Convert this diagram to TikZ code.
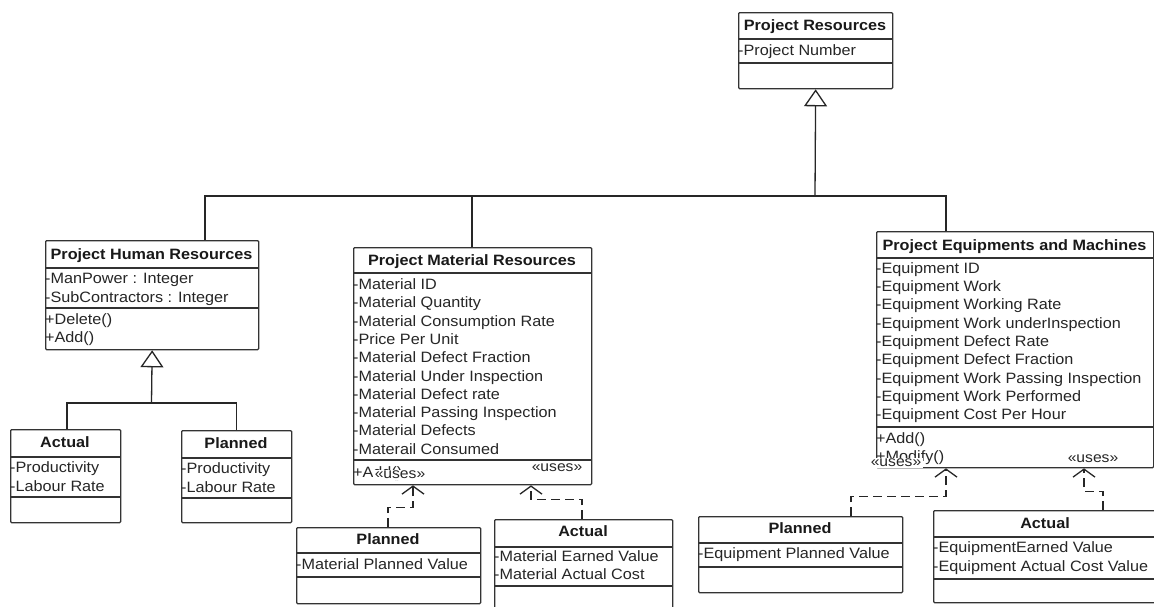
\documentclass[tikz,border=0pt]{standalone}
\usepackage{fontspec}
\setmainfont{Liberation Sans}[FakeStretch=1.08]
\usetikzlibrary{arrows.meta}
\newcommand{\cmpline}[2]{\draw[cls line] ([yshift=-#2pt]#1.north west) -- ([yshift=-#2pt]#1.north east);}
\begin{document}
\begin{tikzpicture}[x=1pt,y=-1pt,
  cls/.style={draw=black!80, line width=1.3pt, rounded corners=1pt, inner sep=0pt, anchor=north west, fill=white},
  cls line/.style={draw=black!80, line width=1.3pt},
  ttl/.style={font=\bfseries\fontsize{15}{18}\selectfont, anchor=base, inner sep=0pt, text=black!90},
  att/.style={font=\fontsize{15}{18}\selectfont, anchor=base west, inner sep=0pt, text=black!85},
  usesl/.style={font=\fontsize{14.5}{17}\selectfont, fill=white, inner sep=1.5pt, text=black!85},
  conn/.style={draw=black!85, line width=1.3pt},
  gen/.style={conn, -{Triangle[open, length=17pt, width=23pt, line width=1.3pt]}},
  dep/.style={conn, dash pattern=on 9pt off 5pt, -{Straight Barb[length=8pt, width=22pt, line width=1.3pt]}}
]
\useasboundingbox (0,0) rectangle (1154,606);
\fill[white] (0,0) rectangle (1154,606);

% ---------- Project Resources
\node[cls, minimum width=154pt, minimum height=76pt] (pr) at (738,12) {};
\cmpline{pr}{27}
\cmpline{pr}{51}
\node[ttl] (prt) at (815,30) {Project Resources};
\node[att] (pra1) at (738,55) {-Project Number};

% ---------- Project Human Resources
\node[cls, minimum width=213pt, minimum height=109pt] (hr) at (45,240) {};
\cmpline{hr}{28}
\cmpline{hr}{68}
\node[ttl] (hrt) at (151.5,259) {Project Human Resources};
\node[att] (hra1) at (45,283) {-ManPower : Integer};
\node[att] (hra2) at (45,302) {-SubContractors : Integer};
\node[att] (hrm1) at (45,324) {+Delete()};
\node[att] (hrm2) at (45,342) {+Add()};

% ---------- HR Actual
\node[cls, minimum width=110pt, minimum height=93pt] (ha) at (10,429) {};
\cmpline{ha}{28}
\cmpline{ha}{68}
\node[ttl] (hat) at (65,447) {Actual};
\node[att] (haa1) at (10,472) {-Productivity};
\node[att] (haa2) at (10,491) {-Labour Rate};

% ---------- HR Planned
\node[cls, minimum width=110pt, minimum height=92pt] (hp) at (181,430) {};
\cmpline{hp}{28}
\cmpline{hp}{68}
\node[ttl] (hpt) at (236,448) {Planned};
\node[att] (hpa1) at (181,473) {-Productivity};
\node[att] (hpa2) at (181,492) {-Labour Rate};

% ---------- Project Material Resources
\node[cls, minimum width=238pt, minimum height=237pt] (mr) at (353,247) {};
\cmpline{mr}{26}
\cmpline{mr}{213}
\node[ttl] (mrt) at (472,265) {Project Material Resources};
\foreach \t [count=\i] in {-Material ID,-Material Quantity,-Material Consumption Rate,-Price Per Unit,-Material Defect Fraction,-Material Under Inspection,-Material Defect rate,-Material Passing Inspection,-Material Defects,-Materail Consumed}
  \node[att] (mra\i) at (353,{289.5+18.3*(\i-1)}) {\t};
\node[att] (mrm1) at (353,477) {+Add()};

% ---------- Project Equipments and Machines
\node[cls, minimum width=277pt, minimum height=236pt] (eq) at (876,231) {};
\cmpline{eq}{27}
\cmpline{eq}{196}
\node[ttl] (eqt) at (1014.5,250) {Project Equipments and Machines};
\foreach \t [count=\i] in {-Equipment ID,-Equipment Work,-Equipment Working Rate,-Equipment Work underInspection,-Equipment Defect Rate,-Equipment Defect Fraction,-Equipment Work Passing Inspection,-Equipment Work Performed,-Equipment Cost Per Hour}
  \node[att] (eqa\i) at (876,{273.3+18.3*(\i-1)}) {\t};
\node[att] (eqm1) at (876,443) {+Add()};
\node[att] (eqm2) at (876,461) {+Modify()};

% ---------- Material Planned
\node[cls, minimum width=184pt, minimum height=76pt] (mp) at (296,527) {};
\cmpline{mp}{26}
\cmpline{mp}{50}
\node[ttl] (mpt) at (388,544) {Planned};
\node[att] (mpa1) at (296,569) {-Material Planned Value};

% ---------- Material Actual
\node[cls, minimum width=178pt, minimum height=100pt] (ma) at (494,519) {};
\cmpline{ma}{28}
\cmpline{ma}{67}
\node[ttl] (mat) at (583,536) {Actual};
\node[att] (maa1) at (494,561) {-Material Earned Value};
\node[att] (maa2) at (494,579) {-Material Actual Cost};

% ---------- Equipment Planned
\node[cls, minimum width=204pt, minimum height=76pt] (ep) at (698,516) {};
\cmpline{ep}{27}
\cmpline{ep}{51}
\node[ttl] (ept) at (800,533) {Planned};
\node[att] (epa1) at (698,558) {-Equipment Planned Value};

% ---------- Equipment Actual
\node[cls, minimum width=230pt, minimum height=92pt] (ea) at (933,510) {};
\cmpline{ea}{27}
\cmpline{ea}{69}
\node[ttl] (eat) at (1045,528) {Actual};
\node[att] (eaa1) at (933,552) {-EquipmentEarned Value};
\node[att] (eaa2) at (933,571) {-Equipment Actual Cost Value};

% ---------- generalisation tree
\coordinate (bus) at (815,196);
\draw[conn] ([xshift=160pt]hr.north west) |- (bus);
\draw[conn] ([xshift=119pt]mr.north west) |- (bus);
\draw[conn] ([xshift=70pt]eq.north west) |- (bus);
\draw[gen] (bus) -- (pr.south);

\coordinate (hrbus) at (151.5,403);
\draw[conn] ([xshift=57pt]ha.north west) |- (hrbus);
\draw[conn] (hp.north) |- (hrbus);
\draw[gen] (hrbus) -- (hr.south);

% ---------- uses dependencies
\coordinate (mtip1) at ([xshift=60pt]mr.south west);
\coordinate (mtip2) at ([xshift=178pt]mr.south west);
\coordinate (etip1) at ([xshift=70pt]eq.south west);
\coordinate (etip2) at ([xshift=208pt]eq.south west);
\draw[dep] ([xshift=92pt]mp.north west) |- ([yshift=-22pt]mtip1) -- (mtip1);
\draw[dep] ([xshift=88pt]ma.north west) |- ([yshift=-14pt]mtip2) -- (mtip2);
\draw[dep] ([xshift=153pt]ep.north west) |- ([yshift=-28pt]etip1) -- (etip1);
\draw[dep] ([xshift=170pt]ea.north west) |- ([yshift=-23pt]etip2) -- (etip2);

\node[usesl] (u1) at (400,475) {«uses»};
\node[usesl] (u2) at (557,468) {«uses»};
\node[usesl] (u3) at (896,463) {«uses»};
\node[usesl] (u4) at (1093,459) {«uses»};
\end{tikzpicture}
\end{document}
